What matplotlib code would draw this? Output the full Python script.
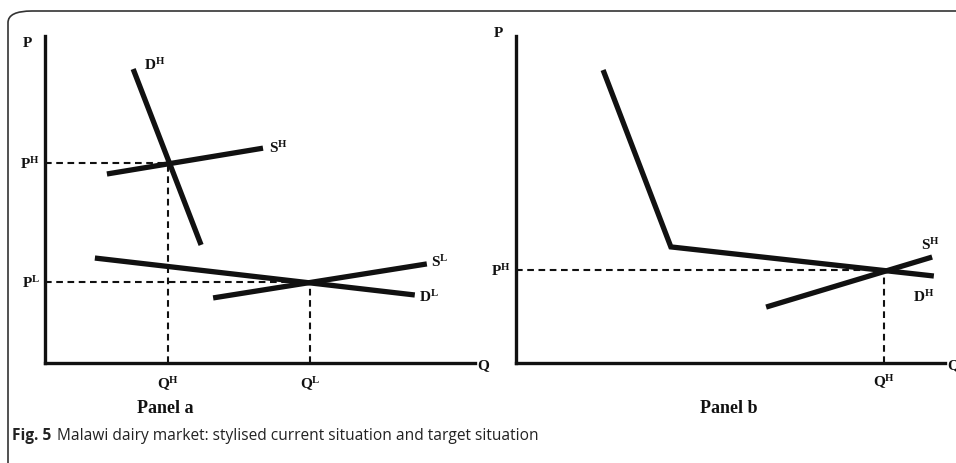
import matplotlib
matplotlib.use("Agg")
import matplotlib.pyplot as plt
from matplotlib.patches import FancyBboxPatch

plt.rcParams['mathtext.fontset'] = 'custom'
plt.rcParams['mathtext.rm'] = 'Liberation Serif:bold'
plt.rcParams['mathtext.bf'] = 'Liberation Serif:bold'
plt.rcParams['mathtext.it'] = 'Liberation Serif:bold'

# Panel a: curvas (Q, P) en unidades 0-10
dh_a_q = [2.05, 3.63]
dh_a_p = [8.99, 3.61]
sh_a_q = [1.44, 5.07]
sh_a_p = [5.78, 6.57]
dl_a_q = [1.16, 8.60]
dl_a_p = [3.21, 2.08]
sl_a_q = [3.91, 8.88]
sl_a_p = [1.99, 3.03]
eq_h_a = (2.86, 6.12)
eq_l_a = (6.16, 2.48)

# Panel b: demanda quebrada y oferta
d_b_q = [2.03, 3.61, 9.74]
d_b_p = [8.96, 3.55, 2.66]
s_b_q = [5.83, 9.70]
s_b_p = [1.71, 3.24]
eq_b = (8.58, 2.84)

W, H = 956, 464
fig = plt.figure(figsize=(W / 100, H / 100), dpi=100)

# marco redondeado
frame = FancyBboxPatch((8 / W, -0.2), 1.2, (H - 12) / H + 0.2,
                       boxstyle="round,pad=0,rounding_size=0.025",
                       transform=fig.transFigure, fill=False,
                       edgecolor='#333333', linewidth=1.2, clip_on=False)
fig.patches.append(frame)

serif = 'Liberation Serif'
lw_curve = 3.8
lw_dash = 1.5
dash = (3.2, 2.2)


def setup(ax):
    ax.set_xlim(0, 10)
    ax.set_ylim(0, 10)
    for s in ['top', 'right']:
        ax.spines[s].set_visible(False)
    for s in ['left', 'bottom']:
        ax.spines[s].set_linewidth(2.4)
        ax.spines[s].set_color('#111111')
    ax.set_xticks([])
    ax.set_yticks([])
    ax.patch.set_alpha(0)


def guides(ax, q, p):
    ax.plot([0, q], [p, p], color='#111111', lw=lw_dash, dashes=dash)
    ax.plot([q, q], [0, p], color='#111111', lw=lw_dash, dashes=dash)


def lab(ax, x, y, s, **kw):
    ax.text(x, y, s, fontsize=11, color='#111111', clip_on=False, **kw)


# ---- Panel a
ax1 = fig.add_axes([45 / W, 100 / H, 430 / W, 327 / H])
setup(ax1)
guides(ax1, *eq_h_a)
guides(ax1, *eq_l_a)
for q, p in [(dh_a_q, dh_a_p), (sh_a_q, sh_a_p), (dl_a_q, dl_a_p), (sl_a_q, sl_a_p)]:
    ax1.plot(q, p, color='#111111', lw=lw_curve, solid_capstyle='butt')

lab(ax1, 2.3, 9.15, r'$\mathrm{D^H}$', ha='left', va='center')
lab(ax1, 5.2, 6.6, r'$\mathrm{S^H}$', ha='left', va='center')
lab(ax1, 8.98, 3.12, r'$\mathrm{S^L}$', ha='left', va='center')
lab(ax1, 8.7, 2.05, r'$\mathrm{D^L}$', ha='left', va='center')
lab(ax1, -0.12, eq_h_a[1], r'$\mathrm{P^H}$', ha='right', va='center')
lab(ax1, -0.12, eq_l_a[1], r'$\mathrm{P^L}$', ha='right', va='center')
lab(ax1, eq_h_a[0], -0.35, r'$\mathrm{Q^H}$', ha='center', va='top')
lab(ax1, eq_l_a[0], -0.35, r'$\mathrm{Q^L}$', ha='center', va='top')
lab(ax1, -0.3, 9.8, 'P', ha='right', va='center', family=serif, weight='bold')
lab(ax1, 10.05, -0.05, 'Q', ha='left', va='center', family=serif, weight='bold')
ax1.text(2.8, -1.35, 'Panel a', fontsize=13, family=serif, weight='bold',
         ha='center', va='center', color='#111111')

# ---- Panel b
ax2 = fig.add_axes([516 / W, 100 / H, 429 / W, 327 / H])
setup(ax2)
guides(ax2, *eq_b)
ax2.plot(d_b_q, d_b_p, color='#111111', lw=lw_curve, solid_capstyle='butt',
         solid_joinstyle='miter')
ax2.plot(s_b_q, s_b_p, color='#111111', lw=lw_curve, solid_capstyle='butt')

lab(ax2, 9.45, 3.65, r'$\mathrm{S^H}$', ha='left', va='center')
lab(ax2, 9.25, 2.05, r'$\mathrm{D^H}$', ha='left', va='center')
lab(ax2, -0.12, eq_b[1], r'$\mathrm{P^H}$', ha='right', va='center')
lab(ax2, eq_b[0], -0.3, r'$\mathrm{Q^H}$', ha='center', va='top')
lab(ax2, -0.3, 10.1, 'P', ha='right', va='center', family=serif, weight='bold')
lab(ax2, 10.05, -0.05, 'Q', ha='left', va='center', family=serif, weight='bold')
ax2.text(4.95, -1.35, 'Panel b', fontsize=13, family=serif, weight='bold',
         ha='center', va='center', color='#111111')

# pie de figura
fig.text(12 / W, 1 - 436 / H, 'Fig. 5', fontsize=11.2, weight='bold',
         family='Open Sans', va='center', ha='left', color='#222222')
fig.text(57 / W, 1 - 436 / H, 'Malawi dairy market: stylised current situation and target situation',
         fontsize=11.2, family='Open Sans', va='center', ha='left', color='#222222')

fig.savefig('out.png', dpi=100)
